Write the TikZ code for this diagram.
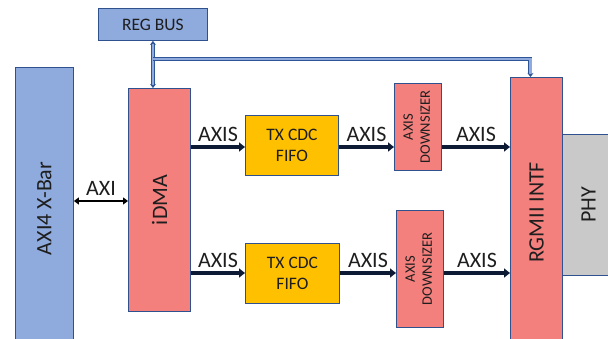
\documentclass[tikz,border=0pt]{standalone}
\usepackage{fontspec}
\setmainfont{Carlito}
\usepackage{tikz}
\usetikzlibrary{arrows.meta,positioning,calc}
\definecolor{barblue}{HTML}{8FAADC}
\definecolor{edgeblue}{HTML}{2F528F}
\definecolor{busblue}{HTML}{2F5597}
\definecolor{blockpink}{HTML}{F4807E}
\definecolor{fifoamber}{HTML}{FFC000}
\definecolor{phygrey}{HTML}{C9C9C9}
\definecolor{streamink}{HTML}{0D1A33}
\definecolor{textink}{HTML}{1E1E1E}

\begin{document}
\begin{tikzpicture}[
  x=1pt, y=-1pt,
  every node/.style={font=\fontsize{22}{26}\selectfont, text=textink},
  block/.style={rectangle, draw=edgeblue, line width=0.9pt, inner sep=0pt, align=center, anchor=north west},
  small/.style={font=\fontsize{17.5}{21}\selectfont},
  tiny/.style={font=\fontsize{14.5}{17}\selectfont},
  stream/.style={-{Triangle[length=6pt, width=9pt]}, line width=3.2pt, draw=streamink},
  axilink/.style={{Triangle[length=5pt, width=7pt]}-{Triangle[length=5pt, width=7pt]}, line width=2pt, draw=black},
  bus/.style={draw=busblue, line width=0.9pt, double=barblue, double distance=2.2pt},
  tag/.style={inner sep=1pt, above=3pt}
]
\useasboundingbox (0,0) rectangle (608,339);

% blocks
\node[block, fill=barblue, small, minimum width=109pt, minimum height=32pt] (regbus) at (98,8) {REG BUS};
\node[block, fill=barblue, minimum width=58pt, minimum height=282pt] (xbar) at (15,67) {\rotatebox{90}{AXI4 X-Bar}};
\node[block, fill=blockpink, minimum width=62pt, minimum height=223pt] (idma) at (128,88) {\rotatebox{90}{iDMA}};
\node[block, fill=fifoamber, small, minimum width=93pt, minimum height=60pt] (fifoA) at (245,115) {TX CDC\\FIFO};
\node[block, fill=fifoamber, small, minimum width=94pt, minimum height=60pt] (fifoB) at (245,243) {TX CDC\\FIFO};
\node[block, fill=blockpink, tiny, minimum width=47pt, minimum height=87pt] (sizerA) at (394,83) {\rotatebox{90}{\begin{tabular}{@{}c@{}}AXIS\\DOWNSIZER\end{tabular}}};
\node[block, fill=blockpink, tiny, minimum width=47pt, minimum height=117pt] (sizerB) at (396,210) {\rotatebox{90}{\begin{tabular}{@{}c@{}}AXIS\\DOWNSIZER\end{tabular}}};
\node[block, fill=phygrey, minimum width=52pt, minimum height=141pt] (phy) at (562,134) {\rotatebox{90}{PHY}};
\node[block, fill=blockpink, minimum width=52pt, minimum height=270pt] (rgmii) at (510,77) {\rotatebox{90}{RGMII INTF}};

% rows for the links
\coordinate (rowX) at (0,201);
\coordinate (rowA) at (0,147);
\coordinate (rowB) at (0,273);
\coordinate (busrow) at (0,59);

% register bus
\draw[bus, {Stealth[length=4pt, width=6pt]}-{Stealth[length=4pt, width=6pt]}] (regbus.south) -- (regbus.south |- idma.north);
\draw[bus, -{Stealth[length=4pt, width=6pt]}] (regbus.south |- busrow) -| ([xshift=-6pt]rgmii.north);

% data paths
\draw[axilink] (xbar.east |- rowX) -- node[tag]{AXI} (idma.west |- rowX);
\draw[stream] (idma.east |- rowA) -- node[tag]{AXIS} (fifoA.west |- rowA);
\draw[stream] (fifoA.east |- rowA) -- node[tag]{AXIS} (sizerA.west |- rowA);
\draw[stream] (sizerA.east |- rowA) -- node[tag]{AXIS} (rgmii.west |- rowA);
\draw[stream] (idma.east |- rowB) -- node[tag]{AXIS} (fifoB.west |- rowB);
\draw[stream] (fifoB.east |- rowB) -- node[tag]{AXIS} (sizerB.west |- rowB);
\draw[stream] (sizerB.east |- rowB) -- node[tag]{AXIS} (rgmii.west |- rowB);
\end{tikzpicture}
\end{document}
